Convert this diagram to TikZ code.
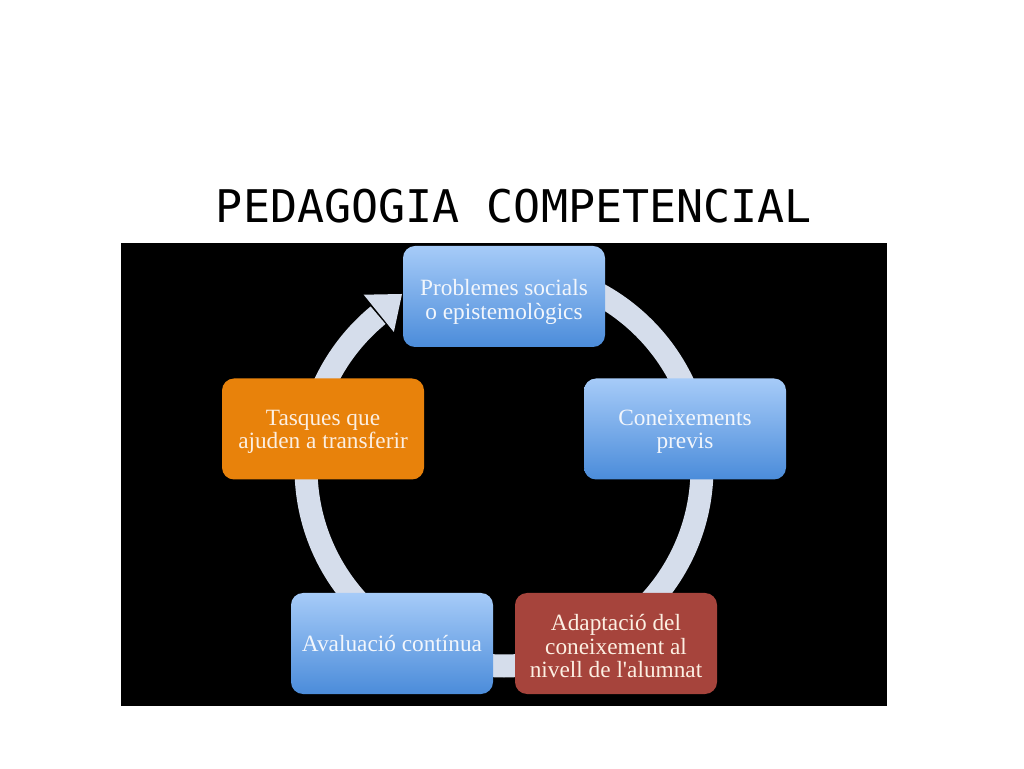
\documentclass[tikz,border=0pt]{standalone}
\usepackage{fontspec}
\newfontfamily\titlefont{DejaVu Sans Mono}
\newfontfamily\boxfont{Liberation Serif}
\definecolor{ringc}{HTML}{D5DDEB}
\definecolor{bluetop}{HTML}{A6CBF8}
\definecolor{bluebot}{HTML}{4B8CDA}
\definecolor{orangec}{HTML}{E8820B}
\definecolor{redc}{HTML}{A6443C}
\definecolor{bluetext}{HTML}{F2F6FC}
\definecolor{warmtext}{HTML}{FCEFE2}
\newcommand{\topstrut}[1]{\rule{0pt}{#1}}
\tikzset{
  box/.style={rounded corners=12pt, minimum width=202pt, minimum height=101pt,
    align=center, inner sep=0pt, font=\boxfont\fontsize{23.3}{23.5}\selectfont},
  bluebox/.style={box, top color=bluetop, bottom color=bluebot, text=bluetext},
  orangebox/.style={box, fill=orangec, text=warmtext},
  redbox/.style={box, fill=redc, text=warmtext},
}
\begin{document}
\begin{tikzpicture}[x=1pt,y=1pt]
\useasboundingbox (0,0) rectangle (1024,768);
\fill[white] (0,0) rectangle (1024,768);
\node[anchor=base, font=\titlefont\fontsize{45}{50}\selectfont] (title) at (514,545) {PEDAGOGIA COMPETENCIAL};
\fill[black] (121,62) rectangle (887,525);
% ring
\coordinate (c) at (504,300);
\draw[ringc, line width=23pt] (c) ++(90:198pt) arc[start angle=90, end angle=-230.5, radius=198pt];
\fill[ringc, shift={(504,300)}] (129:175pt) -- (-102,174) -- (129:223pt) -- cycle;
% boxes
\node[bluebox] (prob) at (504,471.5) {\topstrut{27pt}Problemes socials\\o epistemològics};
\node[bluebox] (con) at (685,339) {\topstrut{21pt}Coneixements\\previs};
\node[redbox] (adap) at (616,124.5) {\topstrut{22pt}Adaptació del\\coneixement al\\nivell de l'alumnat};
\node[bluebox] (aval) at (392,124.5) {\raisebox{-2pt}{Avaluació contínua}};
\node[orangebox] (tasq) at (323,339) {\topstrut{21pt}Tasques que\\ajuden a transferir};
\end{tikzpicture}
\end{document}
